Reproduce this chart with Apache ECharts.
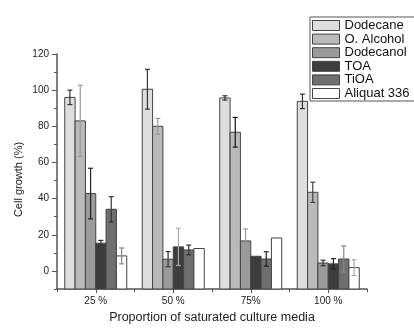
<!DOCTYPE html>
<html><head><meta charset="utf-8">
<script src="https://cdn.jsdelivr.net/npm/echarts@6/dist/echarts.min.js"></script>
<style>html,body{margin:0;padding:0;background:#fff}#c{width:414px;height:331px}</style>
</head><body><div id="c"></div>
<script>
const categories = ['25 %', '50 %', '75%', '100 %'];
const seriesNames = ['Dodecane', 'O. Alcohol', 'Dodecanol', 'TOA', 'TiOA', 'Aliquat 336'];
const dodecane = [96, 100.5, 95.7, 93.8];
const dodecaneErr = [4, 11, 1.2, 4];
const oAlcohol = [83, 80, 76.7, 43.5];
const oAlcoholErr = [19.7, 4.4, 8.2, 5.6];
const dodecanol = [42.8, 6.5, 16.6, 4.4];
const dodecanolErr = [14, 4.2, 6.6, 1.5];
const toa = [15.3, 13.3, 8.1, 3.9];
const toaErr = [1.6, 10.3, 0, 2.9];
const tioa = [34.1, 11.6, 6.6, 6.6];
const tioaErr = [7, 2.7, 4, 7.2];
const aliquat = [8.3, 12.4, 18.2, 1.8];
const aliquatErr = [4.4, 0, 0, 4.4];
const yTicks = [0, 20, 40, 60, 80, 100, 120];
const yMin = -10, yMax = 120;

const values = [dodecane, oAlcohol, dodecanol, toa, tioa, aliquat];
const errors = [dodecaneErr, oAlcoholErr, dodecanolErr, toaErr, tioaErr, aliquatErr];
const fills = ['#dedede', '#bababa', '#9b9b9b', '#3d3d3d', '#6f6f6f', '#ffffff'];
// error bar tone per bar (style)
const errTone = [
  ['#333', '#333', '#333', '#333'],
  ['#9a9a9a', '#999', '#111', '#444'],
  ['#222', '#333', '#999', '#333'],
  ['#333', '#aaa', '#333', '#222'],
  ['#333', '#333', '#222', '#888'],
  ['#888', '#888', '#888', '#aaa']
];
const FONT = "'Liberation Sans', Arial, sans-serif";
const nS = seriesNames.length;

function makeRender(si) {
  return function (params, api) {
    const cat = api.value(0), v = api.value(1), e = api.value(2);
    const bandW = api.size([1, 0])[0];
    const bw = bandW * 0.8 / nS;
    const top = api.coord([cat, v]);
    const base = api.coord([cat, yMin]);
    const x = top[0] - bandW * 0.4 + si * bw;
    const children = [{
      type: 'rect',
      shape: { x: x, y: top[1], width: bw, height: base[1] - top[1] },
      style: { fill: fills[si], stroke: '#444', lineWidth: 1 }
    }];
    if (e > 0) {
      const hi = api.coord([cat, v + e])[1], lo = api.coord([cat, v - e])[1];
      const cx = x + bw / 2, col = errTone[si][params.dataIndex];
      const st = { stroke: col, lineWidth: 1.2 };
      children.push({ type: 'line', shape: { x1: cx, y1: hi, x2: cx, y2: lo }, style: st });
      children.push({ type: 'line', shape: { x1: cx - 2.5, y1: hi, x2: cx + 2.5, y2: hi }, style: st });
      children.push({ type: 'line', shape: { x1: cx - 2.5, y1: lo, x2: cx + 2.5, y2: lo }, style: st });
    }
    return { type: 'group', children: children };
  };
}

const series = seriesNames.map((name, si) => ({
  name: name,
  type: 'custom',
  xAxisIndex: 0, yAxisIndex: 0,
  itemStyle: { color: fills[si], borderColor: '#444', borderWidth: 1 },
  renderItem: makeRender(si),
  encode: { x: 0, y: 1 },
  data: values[si].map((v, i) => [i, v, errors[si][i]])
}));

const chart = echarts.init(document.getElementById('c'), null, { renderer: 'canvas' });
chart.setOption({
  animation: false,
  backgroundColor: '#ffffff',
  textStyle: { fontFamily: FONT },
  grid: [
    { left: 57, top: 54, width: 310, height: 235 },
    { left: 57, top: 54, width: 310, height: 217 }
  ],
  xAxis: [
    { type: 'category', gridIndex: 0, position: 'bottom', data: categories, boundaryGap: true,
      axisLine: { onZero: false, lineStyle: { color: '#555', width: 1.5 } },
      axisTick: { show: true, alignWithLabel: false, length: 3, lineStyle: { color: '#555' } },
      axisLabel: { color: '#222', fontSize: 10, margin: 7, fontFamily: FONT },
      name: 'Proportion of saturated culture media', nameLocation: 'middle', nameGap: 17,
      nameTextStyle: { fontSize: 12.5, color: '#222', fontFamily: FONT } },
    { type: 'category', gridIndex: 0, position: 'bottom', data: categories, boundaryGap: true,
      axisLine: { show: false, onZero: false },
      axisTick: { show: true, alignWithLabel: true, length: 4, lineStyle: { color: '#555' } },
      axisLabel: { show: false } },
    { type: 'category', gridIndex: 1, data: categories, show: false,
      axisLine: { show: false, onZero: false } }
  ],
  yAxis: [
    { type: 'value', gridIndex: 0, min: yMin, max: yMax, interval: 10,
      axisLine: { show: true, lineStyle: { color: '#555', width: 1.5 } },
      axisTick: { show: true, length: 3, lineStyle: { color: '#555' } },
      axisLabel: { show: false }, splitLine: { show: false },
      name: 'Cell growth (%)', nameLocation: 'middle', nameRotate: 90, nameGap: 33,
      nameTextStyle: { fontSize: 11, color: '#222', fontFamily: FONT, padding: [0, 16, 0, 0] } },
    { type: 'value', gridIndex: 1, min: yTicks[0], max: yTicks[yTicks.length - 1], interval: 20,
      axisLine: { show: false },
      axisTick: { show: true, length: 5, lineStyle: { color: '#555' } },
      axisLabel: { color: '#222', fontSize: 10, margin: 8, fontFamily: FONT },
      splitLine: { show: false } }
  ],
  legend: {
    orient: 'vertical', left: 310, top: 17,
    data: seriesNames,
    itemWidth: 27, itemHeight: 10, itemGap: 0.6,
    padding: [2, 6, 1, 2],
    borderColor: '#555', borderWidth: 1, backgroundColor: '#fff',
    icon: 'rect',
    itemStyle: { borderColor: '#444', borderWidth: 1 },
    textStyle: { fontSize: 13, color: '#111', fontFamily: FONT, lineHeight: 12 }
  },
  series: series
});
</script></body></html>
